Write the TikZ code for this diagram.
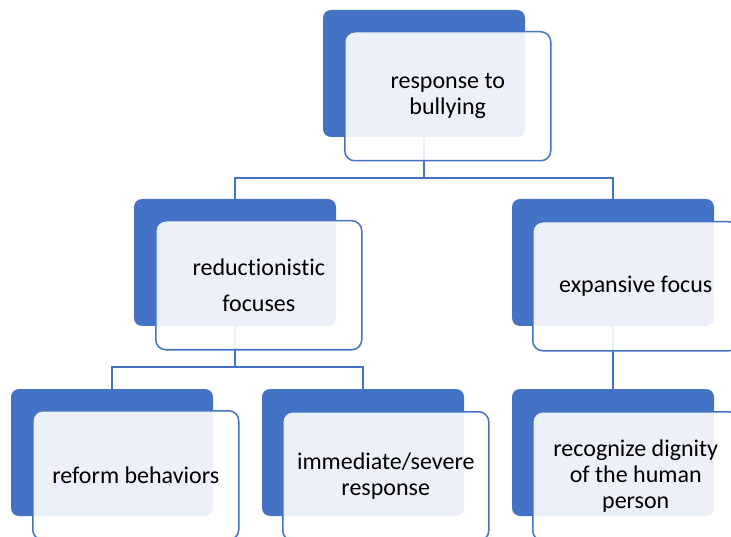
\documentclass[tikz,border=0pt]{standalone}
\usepackage{fontspec}
\setmainfont{Carlito}[Ligatures={NoCommon}]
\definecolor{sablue}{HTML}{4472C4}
\begin{document}
\begin{tikzpicture}[x=1pt,y=-1pt,
  backbox/.style={fill=sablue, rounded corners=8pt, minimum width=202pt, minimum height=127pt, anchor=north west, inner sep=0pt, outer sep=0pt},
  frontbox/.style={draw=sablue, line width=1.5pt, fill=white, fill opacity=0.9, text opacity=1, rounded corners=10pt, minimum width=206pt, minimum height=129pt, anchor=north west, inner sep=0pt, align=center, font=\fontsize{24}{26}\selectfont},
  link/.style={draw=sablue, line width=2.2pt}]
\useasboundingbox (0,0) rectangle (731,537);
\clip (0,0) rectangle (731,537);
% back boxes
\node[backbox] (top) at (323,10) {};
\node[backbox] (red) at (134,199) {};
\node[backbox] (exp) at (512,199) {};
\node[backbox] (ref) at (11,389) {};
\node[backbox] (imm) at (262,389) {};
\node[backbox] (rec) at (512,389) {};
% connectors
\draw[link] (top.south) -- ++(0,41) -| (red.north);
\draw[link] (top.south) ++(0,41) -| (exp.north);
\draw[link] (red.south) -- ++(0,41) -| (ref.north);
\draw[link] (red.south) ++(0,41) -| (imm.north);
\draw[link] (exp.south) -- (rec.north);
% front boxes
\node[frontbox] (topf) at (344,31) {response to\\bullying};
\node[frontbox] (redf) at (155,220) {reductionistic\\[10pt]focuses};
\node[frontbox] (expf) at (532,221) {expansive focus};
\node[frontbox] (reff) at (32,410) {reform behaviors};
\node[frontbox] (immf) at (282,411) {immediate/severe\\response};
\node[frontbox] (recf) at (532,411) {recognize dignity\\of the human\\person};
\end{tikzpicture}
\end{document}
